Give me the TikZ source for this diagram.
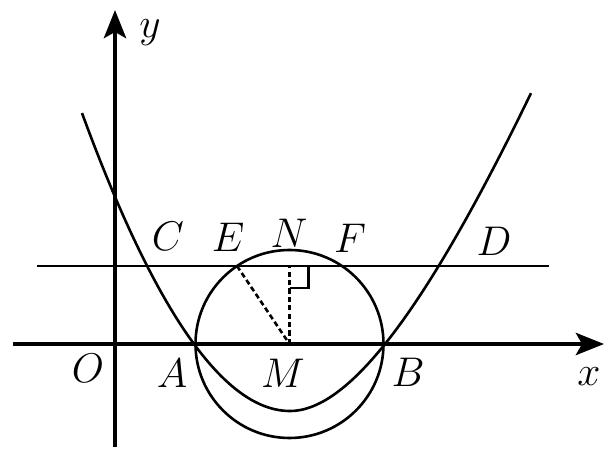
\documentclass[tikz,border=0pt]{standalone}
\usetikzlibrary{arrows.meta}
\begin{document}
\begin{tikzpicture}[
  x=0.5pt,y=-0.5pt,
  every node/.style={font=\fontsize{20}{24}\selectfont},
  axis/.style={line width=2.4pt,-{Stealth[length=14pt,width=11pt,inset=3pt]}},
  curve/.style={line width=1.3pt},
  aux/.style={line width=1.3pt,dash pattern=on 2.6pt off 1.6pt}
]
\useasboundingbox (0,0) rectangle (612,449);
\coordinate (O) at (115,344);
\coordinate (A) at (194,344);
\coordinate (B) at (385,344);
\coordinate (M) at (289.5,344);
\coordinate (C) at (145,266);
\coordinate (D) at (443,266);
\coordinate (E) at (237,266);
\coordinate (N) at (289.5,266);
\coordinate (F) at (342,266);
\coordinate (xs) at (13,344);
\coordinate (xe) at (604,344);
\coordinate (ys) at (115,447);
\coordinate (ye) at (115,10);
\coordinate (ls) at (37,266);
\coordinate (le) at (549,266);
% axes and the line CD
\draw[axis] (xs) -- (xe);
\draw[axis] (ys) -- (ye);
\draw[curve] (ls) -- (le);
% circle and parabola
\draw[curve] (M) circle[radius=94];
\draw[curve] plot[domain=82:290,samples=80] (\x,{411-0.00763*(290-\x)*(290-\x)/(1+0.000518*(290-\x))})
  -- plot[domain=290:531,samples=80] (\x,{411-0.009662*(\x-290)*(\x-290)/(1+0.003174*(\x-290))});
% segments from M
\draw[aux] (E) -- (M);
\draw[aux] (M) -- (N);
\draw[curve] (N) ++(0,22) -- ++(19,0) -- ++(0,-22);
% labels
\node (ylab) at (150,33) {$y$};
\node (xlab) at (589,377) {$x$};
\node (Olab) at (88,368) {$O$};
\node (Alab) at (172,373) {$A$};
\node (Mlab) at (283,373) {$M$};
\node (Blab) at (408,372) {$B$};
\node (Clab) at (168,236) {$C$};
\node (Elab) at (228,237) {$E$};
\node (Nlab) at (289,233) {$N$};
\node (Flab) at (350,238) {$F$};
\node (Dlab) at (494,241) {$D$};
\end{tikzpicture}
\end{document}
